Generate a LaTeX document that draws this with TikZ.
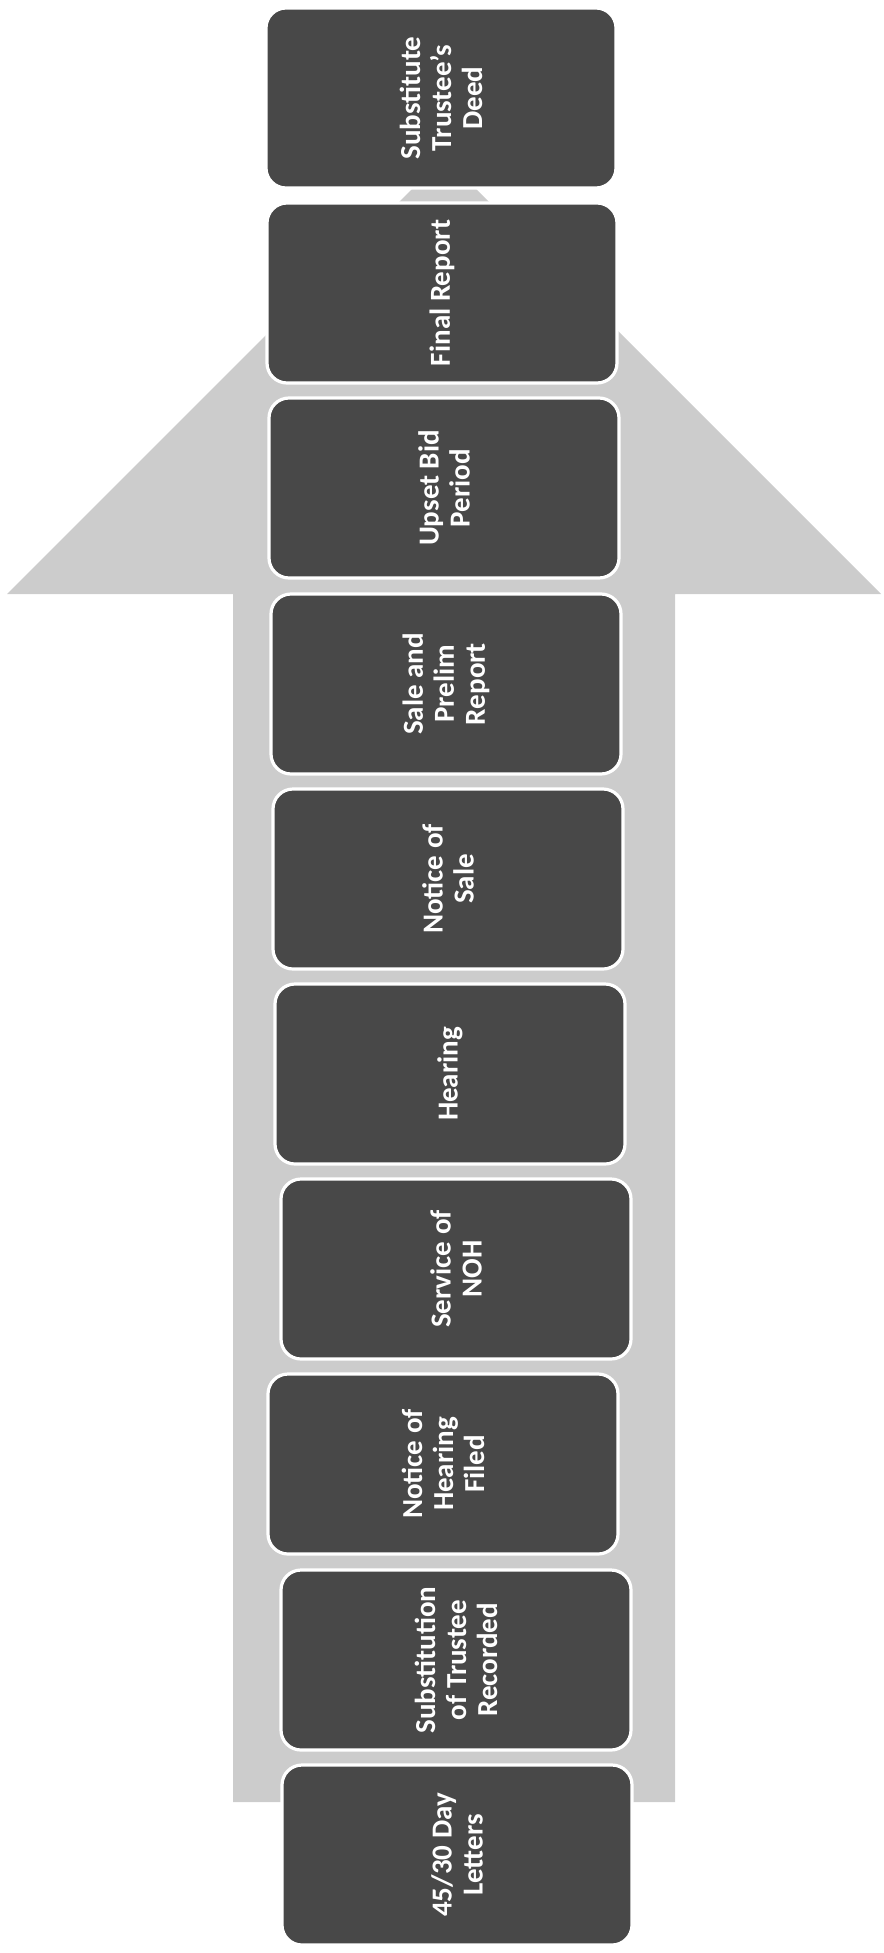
\documentclass[tikz,border=0pt]{standalone}
\usepackage{fontspec}
\setmainfont{Carlito}
\definecolor{cshaft}{RGB}{204,204,204}
\definecolor{cstage}{RGB}{72,72,72}
\tikzset{flow/.style={x=0.5pt,y=0.5pt,font=\bfseries\fontsize{14.5}{15.5}\selectfont}}
\tikzset{stage/.style={rounded corners=10pt,fill=cstage,draw=white,line width=1.6pt,
    text=white,align=center,rotate=90,minimum width=90pt,minimum height=175pt,inner sep=2pt}}

\begin{document}
\begin{tikzpicture}[flow]
    \useasboundingbox (0,0) rectangle (883,-1953);
    \def\sl{233}\def\sr{675}
    % big arrow behind the stages
    \fill[cshaft] (\sl,-1802) -- (\sl,-594) -- (7,-594) -- (444,-157) -- (881,-594) -- (\sr,-594) -- (\sr,-1802) -- cycle;
    \foreach \cx/\cy/\nm/\txt in {441/98/deed/{Substitute\\Trustee's\\Deed},
        442/293/final/{Final Report},
        444/488/upset/{Upset Bid\\Period},
        446/684/sale/{Sale and\\Prelim\\Report},
        448/879/nos/{Notice of\\Sale},
        450/1074/hearing/{Hearing},
        456/1269/service/{Service of\\NOH},
        443/1464/noh/{Notice of\\Hearing\\Filed},
        456/1660/subst/{Substitution\\of Trustee\\Recorded},
        457/1855/letters/{45/30 Day\\Letters}}
        \node[stage] (\nm) at (\cx,-\cy) {\txt};
\end{tikzpicture}
\end{document}
